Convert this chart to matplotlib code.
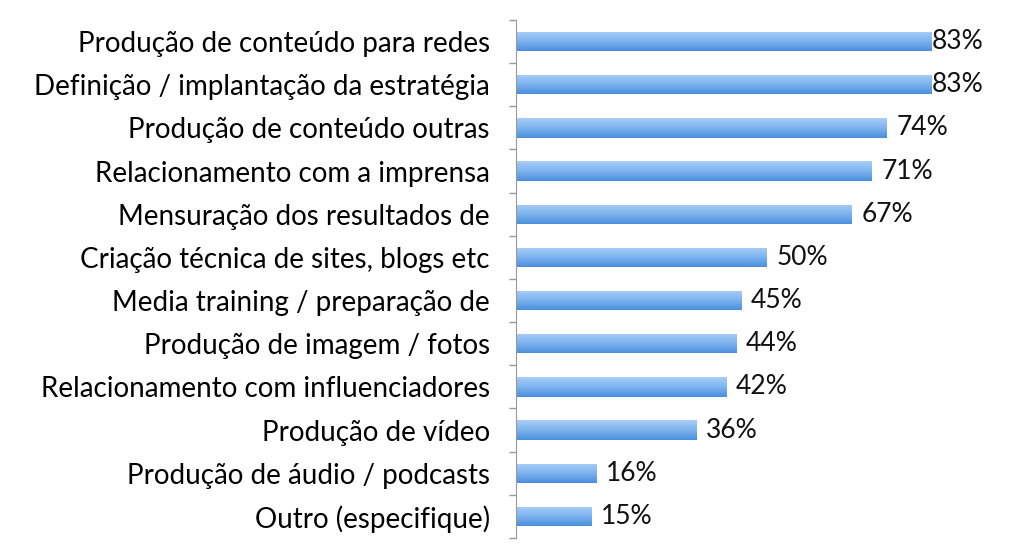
import numpy as np
import matplotlib
matplotlib.use('Agg')
from matplotlib import pyplot as plt
from matplotlib.ticker import FixedLocator

# Dados do gráfico
categorias = ['Produção de conteúdo para redes',
              'Definição / implantação da estratégia',
              'Produção de conteúdo outras',
              'Relacionamento com a imprensa',
              'Mensuração dos resultados de',
              'Criação técnica de sites, blogs etc',
              'Media training / preparação de',
              'Produção de imagem / fotos',
              'Relacionamento com influenciadores',
              'Produção de vídeo',
              'Produção de áudio / podcasts',
              'Outro (especifique)']
valores = [83, 83, 74, 71, 67, 50, 45, 44, 42, 36, 16, 15]
rotulos = ['83%', '83%', '74%', '71%', '67%', '50%', '45%', '44%', '42%', '36%', '16%', '15%']

plt.rcParams['font.family'] = ['Lato', 'DejaVu Sans']

fig = plt.figure(figsize=(10.24, 5.56), dpi=100)
ax = fig.add_axes([0.504, 0.0324, 0.489, 0.9317])

pos = np.arange(len(categorias))
bars = ax.barh(pos, valores, height=0.45, color='#6aa6ea', edgecolor='none')

# Gradiente vertical em cada barra (claro em cima, escuro embaixo)
grad = np.linspace(0, 1, 64).reshape(-1, 1)
cmap = matplotlib.colors.LinearSegmentedColormap.from_list('g', ['#a9cdf6', '#7db3ef', '#4a8fdc'])
for b in bars:
    x0, y0 = b.get_x(), b.get_y()
    w, h = b.get_width(), b.get_height()
    im = ax.imshow(grad, cmap=cmap, aspect='auto', extent=(x0, x0 + w, y0, y0 + h),
                   origin='lower', zorder=2)
    im.set_clip_path(b)

for p, v, r in zip(pos, valores, rotulos):
    off = 0 if v >= 80 else 7
    ax.annotate(r, (v, p), xytext=(off, 0), textcoords='offset points',
                va='center', ha='left', fontsize=19, color='#111111')

ax.set_xlim(0, 100)
ax.set_ylim(len(categorias) - 0.5, -0.5)
ax.set_yticks(pos)
ax.set_yticklabels(categorias, fontsize=20)
ax.yaxis.set_minor_locator(FixedLocator(np.arange(-0.5, len(categorias), 1)))
ax.tick_params(axis='y', which='major', length=0, pad=19)
ax.tick_params(axis='y', which='minor', length=5, color='#999999', width=1)
ax.set_xticks([])
for s in ['top', 'right', 'bottom']:
    ax.spines[s].set_visible(False)
ax.spines['left'].set_color('#999999')
ax.patch.set_alpha(0)

fig.savefig('out.png', dpi=100)
